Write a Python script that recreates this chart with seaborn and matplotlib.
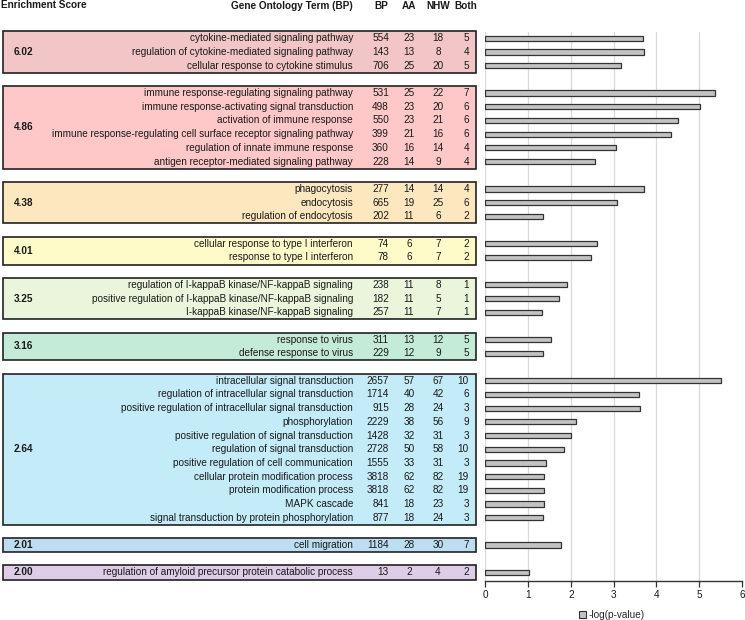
import numpy as np
import pandas as pd
import matplotlib
matplotlib.use("Agg")
import matplotlib.pyplot as plt
import seaborn as sns
from matplotlib.patches import Rectangle

# ---------------- data ----------------
scores = ["6.02", "4.86", "4.38", "4.01", "3.25", "3.16", "2.64", "2.01", "2.00"]
group_sizes = [3, 6, 3, 2, 3, 2, 11, 1, 1]
box_colors = ["#F2C6C7", "#FFC8C8", "#FDE7BF", "#FFFBC9", "#EBF5DC",
              "#C4EBD7", "#C4EBF8", "#BDDDF1", "#DDCDE8"]

terms = [
    "cytokine-mediated signaling pathway",
    "regulation of cytokine-mediated signaling pathway",
    "cellular response to cytokine stimulus",
    "immune response-regulating signaling pathway",
    "immune response-activating signal transduction",
    "activation of immune response",
    "immune response-regulating cell surface receptor signaling pathway",
    "regulation of innate immune response",
    "antigen receptor-mediated signaling pathway",
    "phagocytosis",
    "endocytosis",
    "regulation of endocytosis",
    "cellular response to type I interferon",
    "response to type I interferon",
    "regulation of I-kappaB kinase/NF-kappaB signaling",
    "positive regulation of I-kappaB kinase/NF-kappaB signaling",
    "I-kappaB kinase/NF-kappaB signaling",
    "response to virus",
    "defense response to virus",
    "intracellular signal transduction",
    "regulation of intracellular signal transduction",
    "positive regulation of intracellular signal transduction",
    "phosphorylation",
    "positive regulation of signal transduction",
    "regulation of signal transduction",
    "positive regulation of cell communication",
    "cellular protein modification process",
    "protein modification process",
    "MAPK cascade",
    "signal transduction by protein phosphorylation",
    "cell migration",
    "regulation of amyloid precursor protein catabolic process",
]
bp = [554, 143, 706, 531, 498, 550, 399, 360, 228, 277, 665, 202, 74, 78,
      238, 182, 257, 311, 229, 2657, 1714, 915, 2229, 1428, 2728, 1555,
      3818, 3818, 841, 877, 1184, 13]
aa = [23, 13, 25, 25, 23, 23, 21, 16, 14, 14, 19, 11, 6, 6, 11, 11, 11, 13,
      12, 57, 40, 28, 38, 32, 50, 33, 62, 62, 18, 18, 28, 2]
nhw = [18, 8, 20, 22, 20, 21, 16, 14, 9, 14, 25, 6, 7, 7, 8, 5, 7, 12, 9,
       67, 42, 24, 56, 31, 58, 31, 82, 82, 23, 24, 30, 4]
both = [5, 4, 5, 7, 6, 6, 6, 4, 4, 4, 6, 2, 2, 2, 1, 1, 1, 5, 5, 10, 6, 3,
        9, 3, 10, 3, 19, 19, 3, 3, 7, 2]
neglogp = [3.68, 3.72, 3.17, 5.36, 5.01, 4.50, 4.34, 3.05, 2.57, 3.72, 3.07,
           1.36, 2.62, 2.46, 1.90, 1.73, 1.33, 1.53, 1.36, 5.50, 3.59, 3.62,
           2.12, 2.01, 1.84, 1.41, 1.37, 1.37, 1.37, 1.36, 1.76, 1.03]

x_ticks = [0, 1, 2, 3, 4, 5, 6]
legend_label = "-log(p-value)"

# ---------------- layout ----------------
sns.set_theme(style="white")
plt.rcParams["font.family"] = ["Liberation Sans", "DejaVu Sans"]
FS = 7.2
TXT = "#1a1a1a"

pos, grp = [], []
r = 0
for g, n in enumerate(group_sizes):
    for _ in range(n):
        pos.append(r)
        grp.append(g)
        r += 1
    r += 1
df = pd.DataFrame({"term": terms, "pos": pos, "val": neglogp, "group": grp})

W, H = 745, 620
fig = plt.figure(figsize=(W / 100, H / 100), dpi=100)
top_px, bot_px = 32, 580.7
y0 = 1 - bot_px / H
hh = (bot_px - top_px) / H
axL = fig.add_axes([0, y0, 480 / W, hh])
axR = fig.add_axes([485.3 / W, y0, (742 - 485.3) / W, hh])
ylim = (39.6, -0.46)

# ---------------- left table ----------------
axL.set_xlim(0, 480)
axL.set_ylim(*ylim)
axL.axis("off")
start = 0
for g, n in enumerate(group_sizes):
    rows = pos[start:start + n]
    r0, r1 = rows[0], rows[-1]
    axL.add_patch(Rectangle((3, r0 - 0.52), 473, (r1 - r0) + 1.04,
                            facecolor=box_colors[g], edgecolor="#222222",
                            lw=1.2, clip_on=False, zorder=1))
    axL.text(14, (r0 + r1) / 2, scores[g], ha="left", va="center",
             fontsize=FS, fontweight="bold", color=TXT, zorder=3)
    start += n

for i, p in enumerate(pos):
    axL.text(353, p, terms[i], ha="right", va="center", fontsize=FS, color=TXT, zorder=3)
    axL.text(389, p, str(bp[i]), ha="right", va="center", fontsize=FS, color=TXT, zorder=3)
    axL.text(409, p, str(aa[i]), ha="center", va="center", fontsize=FS, color=TXT, zorder=3)
    axL.text(438, p, str(nhw[i]), ha="center", va="center", fontsize=FS, color=TXT, zorder=3)
    axL.text(469, p, str(both[i]), ha="right", va="center", fontsize=FS, color=TXT, zorder=3)

hy = 1 - 6 / H
fig.text(1 / W, 1 - 5 / H, "Enrichment Score", ha="left", va="center",
         fontsize=FS, fontweight="bold", color=TXT)
fig.text(353 / W, hy, "Gene Ontology Term (BP)", ha="right", va="center",
         fontsize=FS, fontweight="bold", color=TXT)
for lab, xc in zip(["BP", "AA", "NHW", "Both"], [381, 409, 438, 466]):
    fig.text(xc / W, hy, lab, ha="center", va="center", fontsize=FS,
             fontweight="bold", color=TXT)

# ---------------- bars ----------------
sns.barplot(data=df, x="val", y="pos", orient="h", native_scale=True,
            width=0.38, color="#C3C3C3", edgecolor="#333333", linewidth=0.9,
            saturation=1, errorbar=None, ax=axR, zorder=3)
axR.set_ylim(*ylim)
axR.set_xlim(0, 6)
axR.set_xticks(x_ticks)
axR.set_xticklabels([str(t) for t in x_ticks], fontsize=FS, color=TXT)
axR.set_yticks([])
axR.set_xlabel("")
axR.set_ylabel("")
axR.xaxis.grid(True, color="#D9D9D9", lw=0.9)
axR.set_axisbelow(True)
for s in ["top", "right", "left"]:
    axR.spines[s].set_visible(False)
axR.spines["bottom"].set_color("#333333")
axR.spines["bottom"].set_linewidth(1.0)
axR.tick_params(axis="x", bottom=True, length=4, width=0.9, color="#333333",
                direction="out", pad=3)

handle = Rectangle((0, 0), 1, 1, facecolor="#C3C3C3", edgecolor="#333333", lw=0.8)
fig.legend([handle], [legend_label], loc="center", bbox_to_anchor=(612 / W, 1 - 615 / H),
           frameon=False, fontsize=FS, handlelength=0.7, handleheight=0.7,
           handletextpad=0.2, borderpad=0)

fig.savefig("out.png", dpi=100)
